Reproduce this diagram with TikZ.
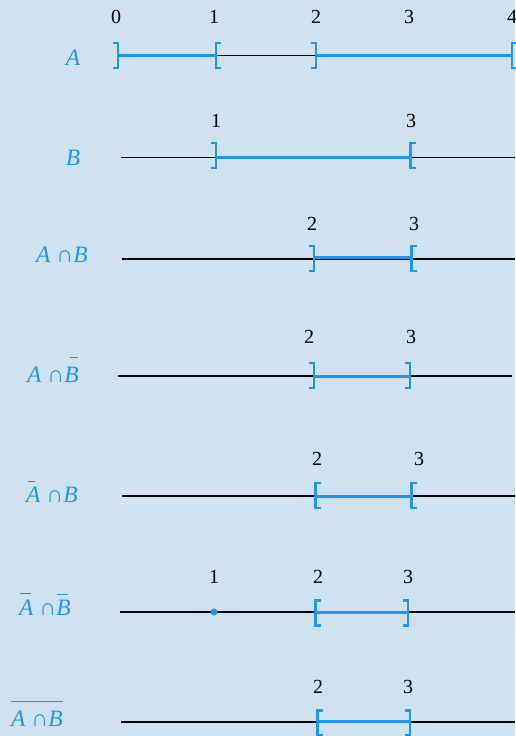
\documentclass[tikz,border=0pt]{standalone}
\usepackage{fontspec}
\setmainfont{Liberation Serif}
\definecolor{bgc}{RGB}{208,226,240}
\definecolor{setblue}{RGB}{30,150,243}
% bar over text: [gap]{text}
\newcommand\ovl[2][4pt]{\vbox{\offinterlineskip\hrule height 1.1pt\kern #1\hbox{#2}}}
% partial bar: {gap}{offset}{width}{letter}
\newcommand\barlet[4]{\vbox{\offinterlineskip\hbox{\kern#2\vrule height 1.1pt depth 0pt width #3}\kern#1\hbox{#4}}}
\tikzset{
  num/.style={font=\fontsize{20}{22}\selectfont, text=black, inner sep=0pt},
  lab/.style={font=\fontsize{23.5}{25}\selectfont\itshape, text=setblue, inner sep=0pt},
  axis/.style={draw=black, line width=1.5pt},
  seg/.style={draw=setblue, line width=3pt},
  brk/.style={draw=setblue, line width=2.2pt},
  closebr/.pic={\draw[brk] (-5,-12.5) -- (0,-12.5) -- (0,12.5) -- (-5,12.5);},
  openbr/.pic={\draw[brk] (5,-12.5) -- (0,-12.5) -- (0,12.5) -- (5,12.5);}
}
\begin{document}
\begin{tikzpicture}[x=1pt,y=-1pt]
\fill[bgc] (0,0) rectangle (515,736);
\useasboundingbox (0,0) rectangle (515,736);
% ---------- Row 1: A
\node[num] (a0) at (116,17) {0};
\node[num] (a1) at (214,17) {1};
\node[num] (a2) at (316,17) {2};
\node[num] (a3) at (409,17) {3};
\node[num] (a4) at (512,17) {4};
\node[lab] (lA) at (73,58) {A};
\coordinate (r1a) at (118,55.5);
\coordinate (r1b) at (216,55.5);
\coordinate (r1c) at (316,55.5);
\coordinate (r1d) at (512,55.5);
\draw[axis] (r1a) -- (r1c);
\draw[seg] (r1a) -- (r1b);
\draw[seg] (r1c) -- (r1d);
\pic at (118,55.5) {closebr};
\pic at (216,55.5) {openbr};
\pic at (316,55.5) {closebr};
\pic at (512,55.5) {openbr};
% ---------- Row 2: B
\node[num] (b1) at (216,121) {1};
\node[num] (b3) at (411,121) {3};
\node[lab] (lB) at (73,158) {B};
\coordinate (r2s) at (121,157.5);
\coordinate (r2a) at (216,157.5);
\coordinate (r2b) at (410.5,157.5);
\coordinate (r2e) at (515,157.5);
\draw[axis] (r2s) -- (r2e);
\draw[seg] (r2a) -- (r2b);
\pic at (216,155.5) {closebr};
\pic at (410.5,155.5) {openbr};
% ---------- Row 3: A cap B
\node[num] (c2) at (312,224) {2};
\node[num] (c3) at (414,224) {3};
\node[lab] (lAB) at (62,255) {A ∩B};
\coordinate (r3s) at (122,259);
\coordinate (r3a) at (314,257);
\coordinate (r3b) at (411.5,257);
\coordinate (r3e) at (515,259);
\draw[axis] (r3s) -- (r3e);
\draw[seg] (r3a) -- (r3b);
\pic at (314,258.5) {closebr};
\pic at (411.5,258.5) {openbr};
% ---------- Row 4: A cap not B
\node[num] (d2) at (309,337) {2};
\node[num] (d3) at (411,337) {3};
\node[lab,anchor=base] (lAnB) at (53,382) {A ∩\barlet{9pt}{5.5pt}{8pt}{B}};
\coordinate (r4s) at (118,376);
\coordinate (r4a) at (314,376);
\coordinate (r4b) at (410,376);
\coordinate (r4e) at (512,376);
\draw[axis] (r4s) -- (r4e);
\draw[seg] (r4a) -- (r4b);
\pic at (314,375.5) {closebr};
\pic at (410,375.5) {closebr};
% ---------- Row 5: not A cap B
\node[num] (e2) at (317,459) {2};
\node[num] (e3) at (419,459) {3};
\node[lab,anchor=base] (lnAB) at (52,502) {\barlet{4pt}{1.5pt}{7pt}{A} ∩B};
\coordinate (r5s) at (122,496);
\coordinate (r5a) at (315.5,496);
\coordinate (r5b) at (411.5,496);
\coordinate (r5e) at (515,496);
\draw[axis] (r5s) -- (r5e);
\draw[seg] (r5a) -- (r5b);
\pic at (315.5,495.5) {openbr};
\pic at (411.5,495.5) {openbr};
% ---------- Row 6: not A cap not B
\node[num] (f1) at (214,577) {1};
\node[num] (f2) at (318,577) {2};
\node[num] (f3) at (408,577) {3};
\node[lab,anchor=base] (lnAnB) at (45,615) {\barlet{5pt}{1pt}{11pt}{A} ∩\barlet{5pt}{1pt}{11pt}{B}};
\coordinate (r6s) at (120,612);
\coordinate (r6a) at (315.5,612);
\coordinate (r6b) at (408,612);
\coordinate (r6e) at (515,612);
\draw[axis] (r6s) -- (r6e);
\draw[seg] (r6a) -- (r6b);
\fill[setblue] (214,612) circle (3.5);
\pic at (315.5,613) {openbr};
\pic at (408,613) {closebr};
% ---------- Row 7: complement of A cap B
\node[num] (g2) at (318,687) {2};
\node[num] (g3) at (408,687) {3};
\node[lab,anchor=base] (lcAB) at (37,726) {\ovl[8pt]{A ∩B}};
\coordinate (r7s) at (121,722);
\coordinate (r7a) at (317.5,721);
\coordinate (r7b) at (410,721);
\coordinate (r7e) at (515,722);
\draw[axis] (r7s) -- (r7e);
\draw[seg] (r7a) -- (r7b);
\pic at (317.5,723) {openbr};
\pic at (410,723) {closebr};
\end{tikzpicture}
\end{document}
